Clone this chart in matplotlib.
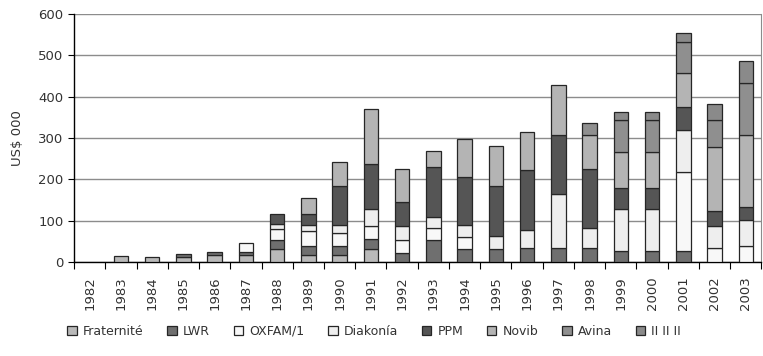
import numpy as np
import matplotlib
matplotlib.use("Agg")
import matplotlib.pyplot as plt
from matplotlib.patches import Patch

# Funding per donor, US$ 000
years = [str(y) for y in range(1982, 2004)]
fraternite = [0, 15, 12, 13, 16, 17, 31, 16, 16, 31, 0, 0, 0, 0, 0, 0, 0, 0, 0, 0, 0, 0]
lwr = [0, 0, 0, 7, 8, 8, 23, 23, 23, 24, 23, 54, 31, 31, 35, 35, 35, 27, 27, 27, 0, 0]
oxfam = [0, 0, 0, 0, 0, 22, 27, 35, 32, 32, 31, 29, 29, 0, 0, 0, 0, 0, 0, 190, 33, 39]
diakonia = [0, 0, 0, 0, 0, 0, 12, 15, 18, 42, 32, 25, 30, 32, 42, 129, 47, 100, 100, 102, 55, 63]
ppm = [0, 0, 0, 0, 0, 0, 24, 28, 95, 109, 58, 122, 115, 120, 145, 143, 144, 53, 53, 55, 36, 30]
novib = [0, 0, 0, 0, 0, 0, 0, 39, 58, 132, 82, 39, 92, 97, 93, 121, 82, 85, 85, 83, 153, 175]
avina = [0, 0, 0, 0, 0, 0, 0, 0, 0, 0, 0, 0, 0, 0, 0, 0, 28, 79, 79, 76, 67, 125]
other = [0, 0, 0, 0, 0, 0, 0, 0, 0, 0, 0, 0, 0, 0, 0, 0, 0, 18, 18, 20, 38, 55]

series = [
    ("Fraternité", fraternite, "#b9b9b9"),
    ("LWR", lwr, "#6f6f6f"),
    ("OXFAM/1", oxfam, "#f8f8f8"),
    ("Diakonía", diakonia, "#eeeeee"),
    ("PPM", ppm, "#555555"),
    ("Novib", novib, "#b4b4b4"),
    ("Avina", avina, "#8f8f8f"),
    ("II II II", other, "#8a8a8a"),
]

plt.rcParams["font.family"] = "DejaVu Sans"
fig = plt.figure(figsize=(7.63, 3.56), dpi=100)
ax = fig.add_axes([0.097, 0.264, 0.901, 0.697])

x = np.arange(len(years))
bottom = np.zeros(len(years))
handles = []
for name, vals, col in series:
    vals = np.array(vals, dtype=float)
    # no outline on empty segments
    edges = ["#262626" if v > 0 else "none" for v in vals]
    ax.bar(x, vals, 0.47, bottom=bottom, color=col, edgecolor=edges,
           linewidth=0.9, zorder=3)
    handles.append(Patch(facecolor=col, edgecolor="#262626", linewidth=0.9, label=name))
    bottom += vals

ax.set_xlim(-0.5, len(years) - 0.5)
ax.set_ylim(0, 600)
ax.set_yticks(range(0, 601, 100))
ax.yaxis.grid(True, color="#8c8c8c", linewidth=1)
ax.set_axisbelow(True)

ax.set_xticks(x)
ax.set_xticklabels(years, rotation=90, fontsize=9.5, color="#333333")
ax.set_xticks(np.arange(-0.5, len(years), 1), minor=True)
ax.tick_params(axis="x", which="major", length=0, pad=10)
ax.tick_params(axis="x", which="minor", length=5, width=0.8, direction="out")
ax.tick_params(axis="y", length=4, width=0.8, labelsize=9.5, labelcolor="#333333")

ax.spines["top"].set_visible(False)
ax.spines["right"].set_color("#8c8c8c")
ax.spines["left"].set_linewidth(1)
ax.spines["bottom"].set_linewidth(1)

ax.set_ylabel("US$ 000", fontsize=9.5, color="#333333", labelpad=10)

leg = fig.legend(handles=handles, loc="center left", bbox_to_anchor=(0.08, 0.07),
                 ncol=8, frameon=False, fontsize=9, handlelength=0.75,
                 handleheight=0.75, handletextpad=0.5, columnspacing=1.9, borderpad=0)
for t in leg.get_texts():
    t.set_color("#333333")

fig.savefig("out.png", dpi=100)
